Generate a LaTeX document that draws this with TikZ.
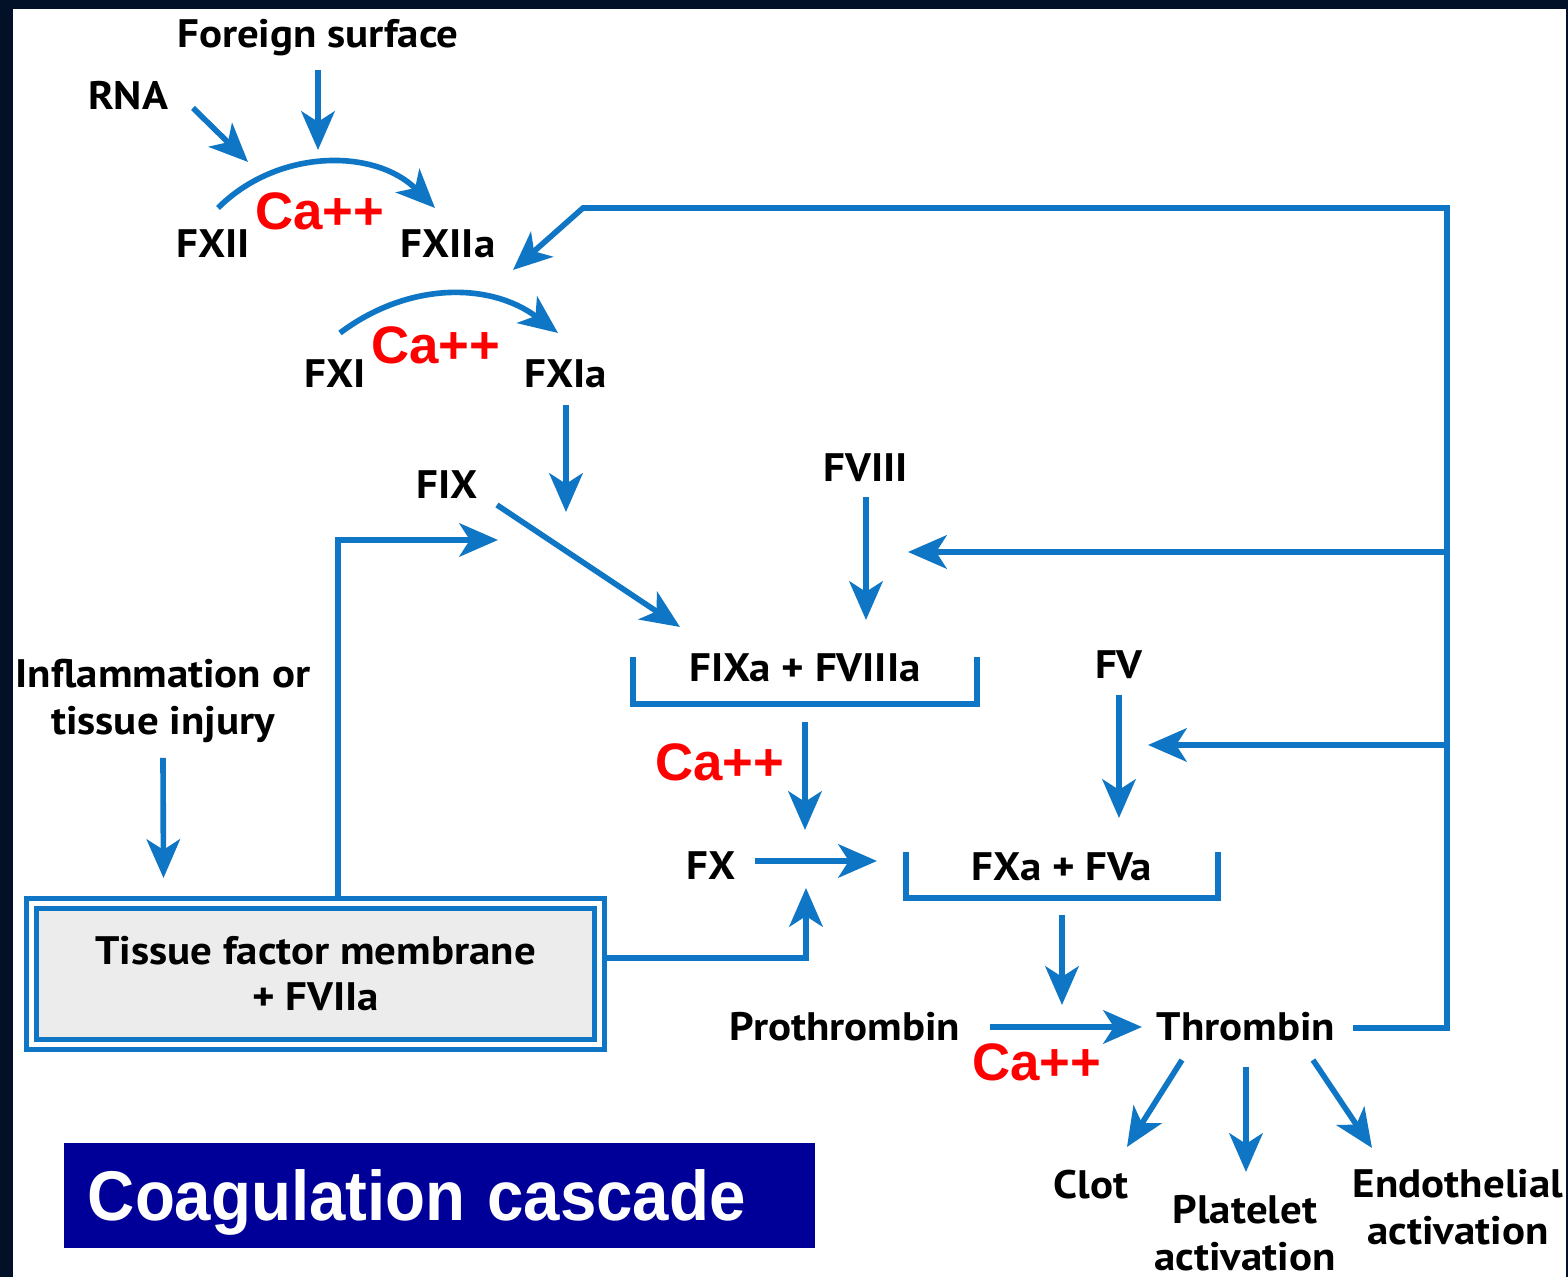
\documentclass[tikz,border=0pt]{standalone}
\usepackage{fontspec}
\setmainfont{PT Sans}[FakeStretch=1.08]
\newfontfamily\arialfont{Liberation Sans}
\usetikzlibrary{arrows.meta}
\definecolor{cblue}{RGB}{14,118,196}
\definecolor{framecol}{RGB}{2,16,40}
\definecolor{navy}{RGB}{0,0,153}
\definecolor{tfgray}{RGB}{236,236,236}
\tikzset{
	lbl/.style={inner sep=0pt,font=\bfseries\fontsize{11.3}{13.4}\selectfont,text height=8pt,text depth=0pt},
	lbls/.style={inner sep=0pt,font=\bfseries\fontsize{11.3}{13.4}\selectfont,align=center},
	ca/.style={inner sep=0pt,text=red,font=\arialfont\bfseries\fontsize{15}{17}\selectfont},
	arr/.style={draw=cblue,line width=1.6pt,-{Stealth[length=11pt,width=9.5pt,inset=3pt]}},
	pairline/.style={draw=cblue,line width=1.6pt},
	tfbox/.style={draw=cblue,line width=1.4pt,double=white,double distance=1.4pt,fill=tfgray,
		minimum width=5.68cm,minimum height=1.41cm,inner sep=0pt,align=center,
		font=\bfseries\fontsize{11.3}{13.1}\selectfont},
	titlebox/.style={fill=navy,text=white,font=\arialfont\bfseries\fontsize{20}{24}\selectfont,
		minimum width=7.51cm,minimum height=1.05cm,inner xsep=0.24cm,inner ysep=0pt,
		text width=7.03cm,align=left,text height=14.3pt,text depth=0pt}
}

\begin{document}
\begin{tikzpicture}[x=0.01cm,y=-0.01cm]
	% frame
	\fill[framecol] (0,0) rectangle (1568,1277);
	\fill[white] (13,9) rectangle (1566,1277);
	\useasboundingbox (0,0) rectangle (1568,1277);

	% contact pathway
	\node (fsurf) at (318,33) [lbl] {Foreign surface};
	\node (rna) at (128,95) [lbl] {RNA};
	\node (fxii) at (213,243) [lbl] {FXII};
	\node (fxiia) at (448,243) [lbl] {FXIIa};
	\node (caA) at (320,211) [ca] {Ca++};
	\node (fxi) at (335,373) [lbl] {FXI};
	\node (fxia) at (566,373) [lbl] {FXIa};
	\node (caB) at (436,345) [ca] {Ca++};
	\node (fix) at (447,484) [lbl] {FIX};
	\node (fviii) at (866,467) [lbl] {FVIII};
	\node (fixa) at (805,667) [lbl] {FIXa + FVIIIa};
	\node (caC) at (720,762) [ca] {Ca++};
	\node (fv) at (1119,664) [lbl] {FV};
	\node (fx) at (711,865) [lbl] {FX};
	\node (fxa) at (1062,866) [lbl] {FXa + FVa};
	\node (prothr) at (845,1026) [lbl] {Prothrombin};
	\node (thr) at (1246,1026) [lbl] {Thrombin};
	\node (caD) at (1037,1062) [ca] {Ca++};
	\node (clot) at (1091,1184) [lbl] {Clot};
	\node (plt) at (1245,1233) [lbls] {Platelet\\activation};
	\node (endo) at (1458,1207) [lbls] {Endothelial\\activation};

	% tissue factor pathway
	\node (infl) at (163,701) [lbls] {Inflammation or\\tissue injury};
	\node (tf) at (315.5,974) [tfbox] {Tissue factor membrane\\+ FVIIa};
	\node (title) at (439.5,1195.5) [titlebox] {\scalebox{0.93}[1]{Coagulation cascade}};

	\coordinate (arcAtop) at (318,150);
	\coordinate (arcAside) at (248,162);
	\coordinate (fixJoin) at (566,512);
	\coordinate (fbTop) at (1447,208);
	\coordinate (fbBend) at (583,208);
	\coordinate (fb8) at ([shift={(42,85)}]fviii.center);
	\coordinate (fb5) at ([shift={(29,81)}]fv.center);

	\draw[arr] ([shift={(0,37)}]fsurf.center) -- (arcAtop);
	\draw[arr] ([shift={(65,13)}]rna.center) -- (arcAside);
	\draw[arr] ([shift={(5,-35)}]fxii.center) to[bend left=45] ([shift={(-13,-35)}]fxiia.center);
	\draw[arr] ([shift={(5,-40)}]fxi.center) to[bend left=37] ([shift={(-8,-40)}]fxia.center);
	\draw[arr] ([shift={(0,32)}]fxia.center) -- (fixJoin);
	\draw[arr] ([shift={(50,21)}]fix.center) -- ([shift={(-125,-40)}]fixa.center);
	\draw[arr] ([xshift=0.225cm]tf.north) |- ([shift={(51,56)}]fix.center);
	\draw[arr] ([shift={(0,30)}]fviii.center) -- ([shift={(61,-47)}]fixa.center);
	\draw[arr] ([shift={(0,55)}]fixa.center) -- ([shift={(94,-35)}]fx.center);
	\draw[arr] ([shift={(0,31)}]fv.center) -- ([shift={(57,-48)}]fxa.center);
	\draw[arr] ([shift={(44,-4)}]fx.center) -- ([shift={(-185,-5)}]fxa.center);
	\draw[arr] ([yshift=0.16cm]tf.east) -| ([shift={(95,23)}]fx.center);
	\draw[arr] ([shift={(0,57)}]infl.center) -- ([shift={(-152,-96)}]tf.center);
	\draw[arr] ([shift={(0,49)}]fxa.center) -- ([shift={(-184,-21)}]thr.center);
	\draw[arr] ([shift={(145,1)}]prothr.center) -- ([shift={(-104,1)}]thr.center);

	% complexes
	\draw[pairline] ([shift={(-172,-10)}]fixa.center) |- ([shift={(172,37)}]fixa.center) -- ++(0,-47);
	\draw[pairline] ([shift={(-156,-14)}]fxa.center) |- ([shift={(156,32)}]fxa.center) -- ++(0,-46);

	% thrombin feedback
	\draw[arr] ([shift={(107,2)}]thr.center) -| (fbTop) -- (fbBend) -- ([shift={(65,27)}]fxiia.center);
	\draw[arr] (fbTop |- fb8) -- (fb8);
	\draw[arr] (fbTop |- fb5) -- (fb5);

	% thrombin effects
	\draw[arr] ([shift={(-64,34)}]thr.center) -- ([shift={(36,-37)}]clot.center);
	\draw[arr] ([shift={(0,41)}]thr.center) -- ([shift={(1,-61)}]plt.center);
	\draw[arr] ([shift={(67,34)}]thr.center) -- ([shift={(-86,-59)}]endo.center);
\end{tikzpicture}
\end{document}
